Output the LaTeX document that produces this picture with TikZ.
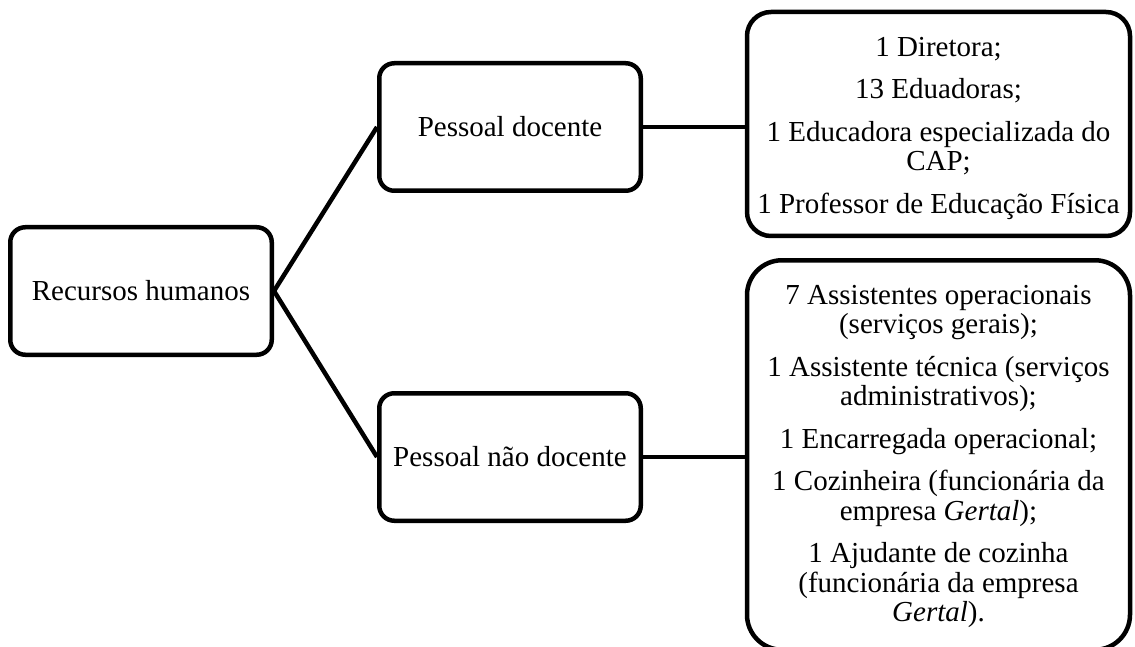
\documentclass[tikz,border=0pt]{standalone}
\usepackage{fontspec}
\setmainfont{Liberation Serif}
\begin{document}
\begin{tikzpicture}[x=1pt,y=-1pt,
  box/.style={draw, line width=4.5pt, rounded corners=15pt, minimum width=261.5pt, minimum height=127.5pt, inner sep=0pt, font=\fontsize{29}{30}\selectfont},
  bigbox/.style={draw, line width=4.5pt, inner sep=0pt, minimum width=383pt},
  txt/.style={align=center, inner sep=0pt, font=\fontsize{29}{29.5}\selectfont},
  link/.style={line width=4.5pt}]
\useasboundingbox (0,0) rectangle (1135,647);
\clip (0,0) rectangle (1135,647);
\node[box] (root) at (141,291) {Recursos humanos};
\node[box] (doc) at (510,127) {Pessoal docente};
\node[box] (ndoc) at (510,457) {Pessoal não docente};
\node[bigbox, rounded corners=24pt, minimum height=224pt] (docl) at (938.5,124) {};
\node[bigbox, rounded corners=35pt, minimum height=389.5pt] (ndocl) at (938.5,455) {};
\node[txt, anchor=north] (doct) at (938.5,37) {1 Diretora;\\[13pt]13 Eduadoras;\\[13pt]1 Educadora especializada do\\CAP;\\[13pt]1 Professor de Educação Física};
\node[txt, anchor=north] (ndoct) at (938.5,285) {7 Assistentes operacionais\\(serviços gerais);\\[13pt]1 Assistente técnica (serviços\\administrativos);\\[13pt]1 Encarregada operacional;\\[13pt]1 Cozinheira (funcionária da\\empresa \textit{Gertal});\\[13pt]1 Ajudante de cozinha\\(funcionária da empresa\\\textit{Gertal}).};
\draw[link] (root.east) -- (doc.west);
\draw[link] (root.east) -- (ndoc.west);
\draw[link] (doc.east) -- (doc.east -| docl.west);
\draw[link] (ndoc.east) -- (ndoc.east -| ndocl.west);
\end{tikzpicture}
\end{document}
